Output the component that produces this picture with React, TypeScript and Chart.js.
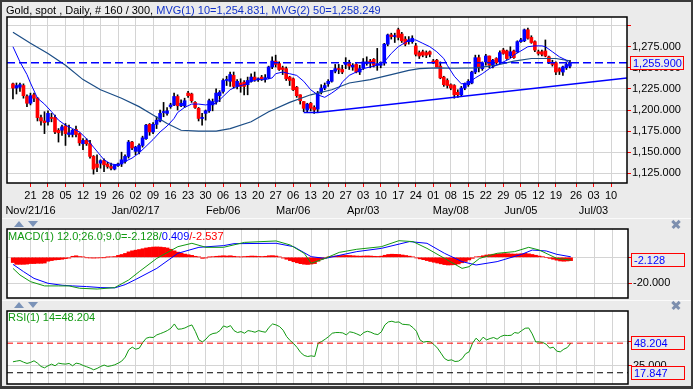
import React, { useEffect, useRef } from 'react';
import { Chart, registerables } from 'chart.js';

Chart.register(...registerables);

// ---------------- data ----------------
// bar index 0 = Mon Nov 21 2016 (weekday count); first candle is Mon Nov 14 2016
const FIRST_BAR = -5;
const TOTAL_BARS = 300;

const opens = [
  1231, 1226, 1227, 1229, 1216, 1208, 1218, 1214, 1191, 1187,
  1186, 1191, 1191, 1176, 1176, 1181, 1171, 1171, 1177, 1172,
  1160, 1164, 1160, 1145, 1136, 1137, 1140, 1136, 1133, 1130,
  1134, 1136, 1139, 1145, 1162, 1151, 1151, 1158, 1166, 1183,
  1174, 1183, 1187, 1197, 1196, 1204, 1206, 1216, 1205, 1205,
  1220, 1219, 1209, 1202, 1190, 1196, 1199, 1206, 1210, 1217,
  1222, 1235, 1234, 1241, 1228, 1232, 1233, 1230, 1234, 1239,
  1236, 1239, 1237, 1238, 1251, 1258, 1255, 1250, 1249, 1239,
  1237, 1227, 1218, 1210, 1200, 1208, 1203, 1201, 1221, 1226,
  1231, 1234, 1246, 1249, 1248, 1254, 1255, 1251, 1254, 1245,
  1250, 1255, 1258, 1260, 1253, 1253, 1257, 1278, 1289, 1287,
  1295, 1290, 1284, 1281, 1281, 1276, 1268, 1269, 1268, 1269,
  1258, 1259, 1252, 1239, 1235, 1230, 1229, 1221, 1218, 1226,
  1230, 1232, 1245, 1262, 1249, 1257, 1264, 1253, 1261, 1257,
  1271, 1270, 1264, 1270, 1269, 1281, 1282, 1295, 1286, 1281,
  1269, 1269, 1270, 1263, 1256, 1256, 1249, 1245, 1250, 1252,
];
const highs = [
  1232, 1232, 1232, 1231, 1218, 1220, 1220, 1215, 1194, 1198,
  1199, 1196, 1194, 1178, 1182, 1184, 1182, 1177, 1181, 1173,
  1166, 1166, 1164, 1146, 1147, 1141, 1142, 1138, 1137, 1135,
  1137, 1150, 1147, 1164, 1163, 1157, 1160, 1169, 1183, 1184,
  1185, 1192, 1200, 1209, 1203, 1208, 1220, 1218, 1212, 1214,
  1222, 1220, 1210, 1203, 1196, 1200, 1213, 1213, 1225, 1223,
  1237, 1240, 1245, 1245, 1236, 1237, 1235, 1239, 1243, 1245,
  1238, 1241, 1242, 1252, 1263, 1265, 1257, 1252, 1251, 1240,
  1238, 1228, 1218, 1210, 1208, 1209, 1205, 1222, 1230, 1232,
  1236, 1247, 1254, 1254, 1253, 1262, 1259, 1255, 1255, 1253,
  1261, 1263, 1260, 1261, 1273, 1257, 1279, 1290, 1291, 1291,
  1297, 1292, 1287, 1287, 1288, 1279, 1270, 1271, 1270, 1270,
  1260, 1260, 1257, 1240, 1237, 1231, 1230, 1224, 1228, 1232,
  1236, 1246, 1265, 1265, 1257, 1266, 1264, 1260, 1262, 1270,
  1273, 1271, 1275, 1271, 1282, 1285, 1296, 1297, 1288, 1282,
  1271, 1271, 1283, 1264, 1259, 1257, 1250, 1252, 1257, 1259,
];
const lows = [
  1213, 1219, 1222, 1214, 1204, 1206, 1210, 1187, 1182, 1172,
  1182, 1186, 1172, 1162, 1170, 1158, 1168, 1168, 1168, 1158,
  1153, 1158, 1143, 1124, 1127, 1131, 1127, 1131, 1129, 1129,
  1133, 1133, 1137, 1143, 1153, 1147, 1148, 1156, 1165, 1170,
  1172, 1178, 1186, 1192, 1194, 1202, 1205, 1200, 1204, 1203,
  1215, 1209, 1202, 1187, 1182, 1188, 1197, 1199, 1207, 1210,
  1220, 1229, 1228, 1226, 1225, 1221, 1218, 1218, 1233, 1234,
  1234, 1235, 1233, 1237, 1249, 1251, 1247, 1242, 1235, 1229,
  1223, 1215, 1207, 1198, 1197, 1199, 1196, 1198, 1219, 1224,
  1228, 1233, 1244, 1243, 1243, 1249, 1248, 1247, 1244, 1242,
  1248, 1253, 1250, 1251, 1247, 1250, 1253, 1276, 1284, 1280,
  1283, 1280, 1276, 1278, 1279, 1264, 1261, 1263, 1262, 1263,
  1255, 1251, 1237, 1228, 1226, 1224, 1214, 1215, 1217, 1224,
  1228, 1231, 1243, 1245, 1247, 1253, 1250, 1250, 1254, 1255,
  1266, 1260, 1262, 1261, 1268, 1280, 1281, 1284, 1279, 1269,
  1265, 1264, 1263, 1255, 1252, 1242, 1242, 1241, 1248, 1250,
];
const closes = [
  1226, 1229, 1230, 1217, 1208, 1217, 1214, 1191, 1187, 1185,
  1196, 1190, 1174, 1173, 1180, 1172, 1173, 1176, 1171, 1161,
  1164, 1160, 1145, 1130, 1132, 1140, 1135, 1133, 1131, 1135,
  1136, 1141, 1145, 1162, 1155, 1156, 1158, 1167, 1182, 1174,
  1183, 1188, 1196, 1198, 1199, 1206, 1216, 1205, 1208, 1211,
  1217, 1211, 1203, 1190, 1191, 1199, 1211, 1210, 1220, 1221,
  1235, 1236, 1242, 1228, 1234, 1228, 1228, 1235, 1239, 1236,
  1237, 1237, 1238, 1251, 1258, 1254, 1248, 1248, 1237, 1235,
  1224, 1217, 1211, 1202, 1207, 1202, 1200, 1220, 1226, 1229,
  1234, 1247, 1249, 1248, 1245, 1256, 1252, 1253, 1245, 1249,
  1257, 1257, 1256, 1253, 1255, 1254, 1278, 1289, 1287, 1288,
  1286, 1282, 1278, 1283, 1285, 1266, 1264, 1265, 1265, 1266,
  1256, 1251, 1238, 1230, 1229, 1226, 1218, 1218, 1226, 1231,
  1234, 1245, 1262, 1250, 1256, 1264, 1253, 1259, 1256, 1268,
  1267, 1261, 1269, 1262, 1281, 1283, 1295, 1285, 1280, 1271,
  1267, 1266, 1264, 1257, 1254, 1245, 1246, 1251, 1254, 1255.9,
];

// MVG(1) 10 — at these bars
const ma10Bars = [-5, -3, -1, 0, 2, 4, 6, 8, 10, 12, 14, 16, 18, 20, 21, 23, 25, 27, 29, 31, 33, 35, 37, 39, 41, 42, 44, 46, 48, 50, 53, 55, 57, 59, 61, 63, 65, 67, 69, 70, 72, 74, 76, 78, 80, 82, 84, 86, 88, 89, 91, 93, 95, 97, 99, 101, 103, 105, 107, 108, 110, 112, 114, 116, 118, 119, 121, 123, 125, 127, 129, 131, 133, 135, 137, 138, 140, 142, 144, 146, 147, 149, 151, 153, 154];
const ma10Values = [1275, 1257, 1242, 1232, 1214, 1207, 1198, 1188, 1182, 1178, 1174, 1166, 1156, 1146, 1141, 1136, 1135, 1139, 1143, 1149, 1157, 1165, 1174, 1181, 1190, 1197, 1203, 1207, 1207, 1206, 1208, 1216, 1224, 1228, 1230, 1234, 1236, 1236, 1238, 1243, 1245, 1243, 1241, 1234, 1224, 1218, 1215, 1220, 1226, 1233, 1241, 1245, 1249, 1251, 1253, 1257, 1267, 1275, 1280, 1283, 1283, 1279, 1275, 1269, 1261, 1253, 1240, 1231, 1232, 1238, 1243, 1249, 1253, 1257, 1261, 1265, 1270, 1275, 1276, 1276, 1275, 1269, 1263, 1259, 1254.831];

// MVG(2) 50
const ma50Bars = [-5, 0, 5, 10, 15, 20, 26, 31, 35, 39, 43, 48, 53, 57, 63, 68, 74, 80, 86, 91, 97, 103, 108, 111, 116, 121, 127, 133, 138, 143, 150, 154];
const ma50Values = [1292, 1279, 1267, 1253, 1236, 1224, 1214, 1204, 1194, 1184, 1176, 1175, 1175, 1178, 1186, 1198, 1209, 1218, 1224, 1232, 1236, 1242, 1247, 1249, 1250, 1249.5, 1250, 1253, 1258, 1261, 1261, 1258.249];

// support trend line drawn on the chart
const trendBars = [78, 82, 170.3];
const trendValues = [1197, 1197, 1238];

// MACD(1) 12;26;9
const macdBars = [-5, -3, 0, 4, 8, 11, 14, 19, 24, 28, 31, 36, 42, 46, 50, 55, 61, 70, 74, 78, 80, 84, 88, 93, 100, 105, 109, 113, 118, 123, 125, 128, 133, 138, 142, 145, 150, 154];
const macdValues = [-8.5, -13.6, -18.7, -22.0, -22.0, -22.0, -23.8, -24.4, -23.3, -17.4, -11.0, -0.8, 8.2, 10.8, 7.7, 7.7, 11.5, 12.6, 9.5, 3.1, -4.6, -0.8, 3.8, 6.2, 8.2, 12.8, 12.1, 6.9, -0.8, -8.5, -7.2, -0.8, 3.1, 4.4, 7.7, 5.6, -0.8, -2.128];
const signalBars = [-5, -2, 1, 5, 9, 12, 16, 20, 24, 27, 30, 36, 42, 48, 55, 58, 70, 75, 80, 84, 93, 100, 108, 113, 118, 123, 127, 133, 140, 143, 147, 150, 154];
const signalValues = [-5.4, -11, -16.2, -20, -21.5, -22, -22.5, -23.3, -23.5, -21, -17, -8.5, 3.1, 7.7, 9.0, 10.5, 10.8, 8.2, 0.5, -0.8, 4.4, 6.9, 12.1, 10.8, 3.1, -3.3, -5.9, -3.3, 2.3, 5.6, 4.9, 2.3, 0.409];
const macdHist = [
  -4.0, -5.4, -5.4, -5.4, -5.2, -4.8, -4.8, -4.6, -4.6, -4.4,
  -3.0, -2.5, -2.0, -1.8, -1.5, -1.0, -0.6, 0.8, 1.2, 0.6,
  0.3, -0.3, -0.5, -0.6, -0.5, -0.3, -0.2, 0.2, 0.4, 0.6,
  1.5, 2.2, 3.0, 4.2, 5.0, 5.5, 6.0, 6.6, 7.2, 7.6,
  7.9, 8.0, 7.9, 7.6, 7.2, 6.2, 5.0, 4.0, 3.2, 2.5,
  2.0, 1.5, 0.8, 0.3, -0.8, -0.5, 0.2, 0.5, 0.8, 1.0,
  1.2, 1.0, 1.2, 0.8, 0.5, 0.3, 0.6, 0.8, 1.0, 0.9,
  0.7, 0.6, 0.8, 1.2, 1.3, 1.0, 0.3, -0.6, -1.5, -2.5,
  -3.4, -4.2, -4.9, -5.3, -5.5, -5.2, -4.8, -3.0, -1.5, -0.5,
  0.3, 0.6, 1.0, 1.3, 1.4, 1.5, 1.4, 1.2, 1.0, 0.9,
  1.0, 1.1, 1.0, 0.8, 0.7, 0.9, 1.6, 2.2, 2.4, 2.3,
  2.2, 1.8, 1.4, 0.9, 0.4, -0.5, -1.2, -1.8, -2.5, -3.2,
  -3.8, -4.4, -5.0, -5.6, -5.9, -5.8, -5.6, -5.1, -4.2, -3.2,
  -2.0, -0.8, 0.4, 0.6, 1.2, 1.8, 2.1, 2.4, 2.5, 2.8,
  2.9, 2.8, 2.6, 2.5, 2.6, 2.8, 3.0, 2.7, 2.2, 1.6,
  1.0, 0.5, 0.0, -0.8, -1.5, -2.2, -2.8, -3.0, -2.8, -2.537,
];

// RSI(1) 14
const rsiValues = [
  29.1, 29.8, 30.4, 28.7, 27.4, 28.4, 30.1, 27.7, 24.3, 22.9,
  25.0, 26.7, 25.0, 27.7, 27.0, 26.7, 27.4, 25.0, 27.7, 27.0,
  25.3, 24.0, 22.6, 20.9, 22.3, 24.3, 25.7, 24.3, 25.0, 26.0,
  27.7, 29.8, 33.9, 41.4, 44.1, 42.0, 43.1, 48.9, 53.3, 54.3,
  54.0, 56.7, 58.0, 59.4, 61.1, 63.5, 67.9, 62.5, 62.8, 63.8,
  65.6, 66.9, 60.1, 51.6, 49.5, 52.3, 56.4, 58.1, 58.7, 61.1,
  65.9, 64.5, 66.2, 61.1, 59.1, 60.1, 58.4, 61.1, 60.4, 59.4,
  61.1, 60.1, 59.4, 64.5, 67.9, 66.9, 65.2, 61.5, 55.0, 50.9,
  47.8, 43.7, 38.6, 35.6, 34.5, 35.2, 34.5, 48.2, 49.9, 52.3,
  55.0, 58.4, 59.1, 59.1, 58.7, 56.7, 59.8, 59.1, 57.7, 56.0,
  59.1, 60.4, 59.4, 57.7, 57.0, 59.8, 66.9, 70.0, 70.7, 69.6,
  70.0, 67.6, 67.3, 66.9, 64.2, 60.4, 51.6, 49.2, 49.9, 49.5,
  46.8, 43.1, 37.9, 32.5, 30.4, 31.1, 29.4, 29.8, 32.2, 37.3,
  39.3, 48.2, 53.3, 49.9, 54.3, 51.6, 53.0, 54.0, 52.3, 55.0,
  56.3, 56.0, 56.3, 59.1, 58.4, 61.1, 63.5, 63.8, 57.7, 49.5,
  49.5, 48.9, 47.1, 43.1, 44.1, 40.0, 39.3, 42.0, 43.7, 48.204,
];
const rsiLowLevel = 17.847;

// axes
const weekTickBars = [0, 5, 10, 15, 20, 25, 30, 35, 40, 45, 50, 55, 60, 65, 70, 75, 80, 85, 90, 95, 100, 105, 110, 115, 120, 125, 130, 135, 140, 145, 150, 155.75, 160.75, 165.75];
const weekTickLabels = ['21', '28', '05', '12', '19', '26', '02', '09', '16', '23', '30', '06', '13', '20', '27', '06', '13', '20', '27', '03', '10', '17', '24', '01', '08', '15', '22', '29', '05', '12', '19', '26', '03', '10'];
const monthTickIndex = [0, 6, 11, 15, 19, 24, 28, 32];
const monthLabels = ['Nov/21/16', 'Jan/02/17', 'Feb/06', 'Mar/06', 'Apr/03', 'May/08', 'Jun/05', 'Jul/03'];
const priceTicks = [1125, 1150, 1175, 1200, 1225, 1250, 1275, 1300];
const macdTicks = [-20, 0];
const rsiTicks = [25, 50];

const X_MIN = -6.7;
const X_MAX = 170.3;

// ---------------- styling ----------------
const FONT = '"Liberation Sans", Arial, sans-serif';
const BG = '#ebebeb';
const GRID = '#d4d4d4';
const UP = '#0000ff';
const DOWN = '#ff0000';
const GREEN = '#119911';

Chart.defaults.font.family = FONT;
Chart.defaults.font.size = 11;

const fmt = (v: number, d = 3) =>
  v.toLocaleString('en-US', { minimumFractionDigits: d, maximumFractionDigits: d });

const lastOf = (a: number[]) => a[a.length - 1];
const pts = (xs: number[], ys: number[]) => xs.map((x, k) => ({ x, y: ys[k] }));

function makeDeco(boxes: { value: number; text: string }[]) {
  return {
    id: 'panelDeco',
    beforeDraw(chart: any) {
      const { ctx, chartArea: a } = chart;
      ctx.save();
      ctx.fillStyle = '#ffffff';
      ctx.fillRect(a.left, a.top, a.right - a.left, a.bottom - a.top);
      ctx.restore();
    },
    afterDraw(chart: any) {
      const { ctx, chartArea: a } = chart;
      const ys = chart.scales.y;
      ctx.save();
      ctx.strokeStyle = '#000';
      ctx.lineWidth = 1.5;
      ctx.strokeRect(a.left, a.top, a.right - a.left, a.bottom - a.top);
      ctx.font = `11px ${FONT}`;
      ctx.textBaseline = 'middle';
      ctx.textAlign = 'left';
      for (const b of boxes) {
        const y = Math.round(ys.getPixelForValue(b.value));
        const x0 = Math.round(a.right) + 3;
        ctx.fillStyle = BG;
        ctx.fillRect(x0, y - 6, 53, 13);
        ctx.strokeStyle = '#ff0000';
        ctx.lineWidth = 1;
        ctx.strokeRect(x0 + 0.5, y - 6.5, 53, 13);
        ctx.fillStyle = '#0000ff';
        ctx.fillText(b.text, x0 + 3, y + 0.5);
      }
      ctx.restore();
    },
  };
}

const weekTicksHook = (s: any) => {
  s.ticks = weekTickBars.map((v) => ({ value: v }));
};

function hiddenX(height: number) {
  return {
    type: 'linear',
    min: X_MIN,
    max: X_MAX,
    offset: false,
    afterBuildTicks: weekTicksHook,
    ticks: { display: false, autoSkip: false },
    grid: { color: GRID, drawTicks: false, offset: false },
    border: { display: false },
    afterFit: (s: any) => {
      s.height = height;
      s.paddingLeft = 0;
      s.paddingRight = 0;
    },
  };
}

function rightY(min: number, max: number, ticks: number[], width: number, label: (v: number) => string) {
  return {
    position: 'right',
    min,
    max,
    afterBuildTicks: (s: any) => {
      s.ticks = ticks.map((v) => ({ value: v }));
    },
    ticks: { padding: 1, color: '#000', font: { size: 11 }, callback: (v: any) => label(Number(v)) },
    grid: { color: GRID, tickColor: '#ff0000', tickLength: 4 },
    border: { display: false },
    afterFit: (s: any) => {
      s.width = width;
      s.paddingTop = 0;
      s.paddingBottom = 0;
    },
  };
}

const common = {
  responsive: false,
  maintainAspectRatio: false,
  animation: false,
  events: [],
  plugins: { legend: { display: false }, tooltip: { enabled: false } },
};

export default function App() {
  const mainRef = useRef<HTMLCanvasElement>(null);
  const macdRef = useRef<HTMLCanvasElement>(null);
  const rsiRef = useRef<HTMLCanvasElement>(null);

  const lastClose = lastOf(closes);
  const bars = closes.map((_, k) => FIRST_BAR + k);

  useEffect(() => {
    const charts: Chart[] = [];

    // ---------- main price panel ----------
    const candleColors = closes.map((c, k) => (c >= opens[k] ? UP : DOWN));
    charts.push(
      new Chart(mainRef.current!, {
        type: 'bar',
        data: {
          datasets: [
            {
              type: 'line',
              data: [{ x: X_MIN, y: lastClose }, { x: X_MAX, y: lastClose }],
              borderColor: '#0000ff',
              borderWidth: 1.5,
              borderDash: [8, 4],
              pointRadius: 0,
              order: 0,
            },
            {
              type: 'line',
              data: pts(trendBars, trendValues),
              borderColor: '#0000ff',
              borderWidth: 1.5,
              pointRadius: 0,
              order: 0,
            },
            {
              type: 'line',
              data: pts(ma10Bars, ma10Values),
              borderColor: '#0000ff',
              borderWidth: 1,
              pointRadius: 0,
              order: 0,
            },
            {
              type: 'line',
              data: pts(ma50Bars, ma50Values),
              borderColor: '#1b4d86',
              borderWidth: 1.2,
              pointRadius: 0,
              order: 0,
            },
            {
              type: 'bar',
              data: bars.map((x, k) => ({ x, y: [opens[k], closes[k]] })),
              backgroundColor: candleColors,
              borderWidth: 0,
              barThickness: 3,
              minBarLength: 1,
              grouped: false,
              order: 1,
            },
            {
              type: 'bar',
              data: bars.map((x, k) => ({ x, y: [lows[k], highs[k]] })),
              backgroundColor: '#000',
              borderWidth: 0,
              barThickness: 1,
              grouped: false,
              order: 2,
            },
          ] as any,
        },
        options: {
          ...common,
          layout: { padding: { left: 7, top: 17, right: 0, bottom: 0 } },
          scales: {
            x: {
              type: 'linear',
              min: X_MIN,
              max: X_MAX,
              offset: false,
              afterBuildTicks: weekTicksHook,
              ticks: {
                autoSkip: false,
                maxRotation: 0,
                minRotation: 0,
                padding: 1,
                color: '#000',
                font: { size: 11, lineHeight: '15px' },
                callback: (_v: any, i: number) => {
                  const m = monthTickIndex.indexOf(i);
                  return m >= 0 ? [weekTickLabels[i], monthLabels[m]] : weekTickLabels[i];
                },
              },
              grid: { color: GRID, tickColor: '#ff0000', tickLength: 4, offset: false },
              border: { display: false },
              afterFit: (s: any) => {
                s.height = 37;
                s.paddingLeft = 0;
                s.paddingRight = 0;
              },
            },
            y: rightY(1113.5, 1310.2, priceTicks, 66, (v) => (v > 1290 ? '' : fmt(v))),
          } as any,
        } as any,
        plugins: [makeDeco([{ value: lastClose, text: fmt(lastClose) }])],
      })
    );

    // ---------- MACD panel ----------
    charts.push(
      new Chart(macdRef.current!, {
        type: 'bar',
        data: {
          datasets: [
            {
              type: 'line',
              data: pts(macdBars, macdValues),
              borderColor: GREEN,
              borderWidth: 1,
              pointRadius: 0,
              order: 0,
            },
            {
              type: 'line',
              data: pts(signalBars, signalValues),
              borderColor: '#0000ff',
              borderWidth: 1,
              pointRadius: 0,
              order: 0,
            },
            {
              type: 'bar',
              data: bars.map((x, k) => ({ x, y: macdHist[k] })),
              backgroundColor: '#ff0000',
              borderWidth: 0,
              barPercentage: 1,
              categoryPercentage: 1,
              grouped: false,
              order: 1,
            },
          ] as any,
        },
        options: {
          ...common,
          layout: { padding: { left: 7, top: 4, right: 0, bottom: 0 } },
          scales: {
            x: hiddenX(5),
            y: rightY(-31.3, 21.8, macdTicks, 65, (v) => (v === 0 ? '' : fmt(v))),
          } as any,
        } as any,
        plugins: [makeDeco([{ value: lastOf(macdValues), text: fmt(lastOf(macdValues)) }])],
      })
    );

    // ---------- RSI panel ----------
    const rsiLast = lastOf(rsiValues);
    charts.push(
      new Chart(rsiRef.current!, {
        type: 'line',
        data: {
          datasets: [
            {
              data: [{ x: X_MIN, y: rsiLast }, { x: X_MAX, y: rsiLast }],
              borderColor: '#ff0000',
              borderWidth: 1,
              borderDash: [6, 4],
              pointRadius: 0,
            },
            {
              data: [{ x: X_MIN, y: rsiLowLevel }, { x: X_MAX, y: rsiLowLevel }],
              borderColor: '#000',
              borderWidth: 1,
              borderDash: [6, 4],
              pointRadius: 0,
            },
            {
              data: bars.map((x, k) => ({ x, y: rsiValues[k] })),
              borderColor: GREEN,
              borderWidth: 1,
              pointRadius: 0,
            },
          ] as any,
        },
        options: {
          ...common,
          layout: { padding: { left: 7, top: 5, right: 0, bottom: 0 } },
          scales: {
            x: hiddenX(5),
            y: rightY(6.3, 81.2, rsiTicks, 65, (v) => fmt(v)),
          } as any,
        } as any,
        plugins: [
          makeDeco([
            { value: rsiLast, text: fmt(rsiLast) },
            { value: rsiLowLevel, text: fmt(rsiLowLevel) },
          ]),
        ],
      })
    );

    return () => charts.forEach((c) => c.destroy());
  }, []);

  const abs = (o: React.CSSProperties): React.CSSProperties => ({ position: 'absolute', ...o });
  const up = (left: number, top: number) => (
    <div style={abs({ left, top, width: 0, height: 0, borderLeft: '5px solid transparent', borderRight: '5px solid transparent', borderBottom: '6px solid #7b93b8' })} />
  );
  const down = (left: number, top: number) => (
    <div style={abs({ left, top, width: 0, height: 0, borderLeft: '5px solid transparent', borderRight: '5px solid transparent', borderTop: '6px solid #7b93b8' })} />
  );
  const cross = (cx: number, cy: number) => (
    <>
      <div style={abs({ left: cx - 5, top: cy - 1, width: 10, height: 2.5, background: '#7d8fae', transform: 'rotate(45deg)' })} />
      <div style={abs({ left: cx - 5, top: cy - 1, width: 10, height: 2.5, background: '#7d8fae', transform: 'rotate(-45deg)' })} />
    </>
  );
  const textStyle = (left: number, top: number): React.CSSProperties =>
    abs({ left, top, fontFamily: FONT, fontSize: 11, lineHeight: '12px', whiteSpace: 'nowrap' });

  const macdLast = lastOf(macdValues);
  const sigLast = lastOf(signalValues);
  const histLast = lastOf(macdHist);

  return (
    <div style={abs({ left: 0, top: 0, width: 693, height: 389, background: BG, overflow: 'hidden' })}>
      <canvas ref={mainRef} width={693} height={220} style={abs({ left: 0, top: 0, width: 693, height: 220 })} />
      <canvas ref={macdRef} width={693} height={78} style={abs({ left: 0, top: 225, width: 693, height: 78 })} />
      <canvas ref={rsiRef} width={693} height={83} style={abs({ left: 0, top: 306, width: 693, height: 83 })} />

      <div style={textStyle(6, 4)}>
        <span style={{ color: '#000' }}>{`Gold, spot , Daily, # ${closes.length} / ${TOTAL_BARS}, `}</span>
        <span style={{ color: '#1030c8' }}>{`MVG(1) 10=${fmt(lastOf(ma10Values))}, MVG(2) 50=${fmt(lastOf(ma50Values))}`}</span>
      </div>

      <div style={abs({ left: 2, top: 218, width: 689, height: 1, background: '#fafafa' })} />
      {up(14, 221)}
      {down(28, 221)}
      {cross(676, 223.5)}

      <div style={abs({ left: 2, top: 300, width: 689, height: 1, background: '#fafafa' })} />
      {up(14, 302)}
      {down(28, 302)}
      {cross(676, 305)}

      <div style={textStyle(8, 230)}>
        <span style={{ color: GREEN }}>{`MACD(1) 12.0;26.0;9.0=${fmt(macdLast)}/`}</span>
        <span style={{ color: '#0000ff' }}>{fmt(sigLast)}</span>
        <span style={{ color: '#ff0000' }}>{`/${fmt(histLast)}`}</span>
      </div>
      <div style={textStyle(8, 311)}>
        <span style={{ color: GREEN }}>{`RSI(1) 14=${fmt(lastOf(rsiValues))}`}</span>
      </div>

      <div style={abs({ left: 0, top: 0, width: 693, height: 389, boxSizing: 'border-box', border: '2px solid #3a3a3a', borderBottomWidth: 3, pointerEvents: 'none' })} />
    </div>
  );
}
